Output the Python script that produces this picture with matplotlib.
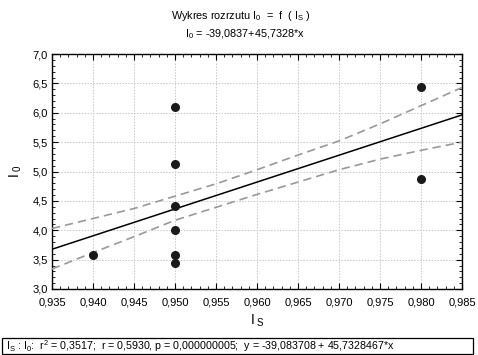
import matplotlib
matplotlib.use("Agg")
import matplotlib.pyplot as plt
from matplotlib.ticker import MultipleLocator, FuncFormatter
from matplotlib.patches import Rectangle
import numpy as np

plt.rcParams['font.family'] = ['Liberation Sans', 'DejaVu Sans']
plt.rcParams['mathtext.fontset'] = 'custom'
plt.rcParams['mathtext.rm'] = 'Liberation Sans'
plt.rcParams['mathtext.it'] = 'Liberation Sans:italic'

# data
x_pts = [0.940, 0.950, 0.950, 0.950, 0.950, 0.950, 0.950, 0.980, 0.980]
y_pts = [3.58, 6.10, 5.13, 4.42, 4.00, 3.58, 3.44, 6.44, 4.87]
intercept = -39.0837
slope = 45.7328
band_x = [0.935, 0.940, 0.945, 0.950, 0.955, 0.960, 0.965, 0.970, 0.975, 0.980, 0.985]
band_upper = [4.03, 4.20, 4.37, 4.58, 4.79, 5.03, 5.28, 5.52, 5.81, 6.12, 6.43]
band_lower = [3.34, 3.62, 3.89, 4.17, 4.39, 4.61, 4.82, 5.03, 5.21, 5.36, 5.50]
x_ticks = [0.935, 0.940, 0.945, 0.950, 0.955, 0.960, 0.965, 0.970, 0.975, 0.980, 0.985]
y_ticks = [3.0, 3.5, 4.0, 4.5, 5.0, 5.5, 6.0, 6.5, 7.0]

fig = plt.figure(figsize=(4.78, 3.55), dpi=100)
ax = fig.add_axes([52/478, 1-289/355, 410/478, 235/355])

ax.set_xlim(0.935, 0.985)
ax.set_ylim(3.0, 7.0)

xl = np.array([0.935, 0.985])
ax.plot(xl, intercept + slope*xl, color='black', lw=1.1, zorder=3)
ax.plot(band_x, band_upper, color='#999999', lw=1.2, ls=(0, (5, 3)), zorder=3)
ax.plot(band_x, band_lower, color='#999999', lw=1.2, ls=(0, (5, 3)), zorder=3)
ax.plot(x_pts, y_pts, 'o', color='#1a1a1a', ms=5.5, zorder=4)

ax.set_xticks(x_ticks)
ax.set_yticks(y_ticks)
ax.xaxis.set_minor_locator(MultipleLocator(0.001))
ax.yaxis.set_minor_locator(MultipleLocator(0.1))
ax.xaxis.set_major_formatter(FuncFormatter(lambda v, p: f"{v:.3f}".replace('.', ',')))
ax.yaxis.set_major_formatter(FuncFormatter(lambda v, p: f"{v:.1f}".replace('.', ',')))
ax.tick_params(which='both', direction='in', top=True, right=True, labelsize=8, colors='black')
ax.tick_params(which='major', length=4, width=0.8)
ax.tick_params(which='minor', length=2, width=0.6)
ax.tick_params(axis='x', which='major', pad=6)
ax.tick_params(axis='y', which='major', pad=3)
ax.grid(True, which='major', color='#c8c8c8', ls=(0, (1.5, 1.5)), lw=0.7)
for s in ax.spines.values():
    s.set_linewidth(1.0)

ax.set_xlabel(r'$\mathregular{I_{\ S}}$', fontsize=10, labelpad=4)
ax.set_ylabel(r'$\mathregular{I_{\ 0}}$', fontsize=10, labelpad=6)

fig.text(241/478, 1-16/355, r'Wykres rozrzutu $\mathregular{I_0}$  =  f  ( $\mathregular{I_S}$ )',
         ha='center', va='center', fontsize=7.8)
fig.text(245/478, 1-34/355, r'$\mathregular{I_0}$ = -39,0837+45,7328*x',
         ha='center', va='center', fontsize=7.8)

fig.patches.append(Rectangle((2/478, 1-354/355), 471/478, 16/355, transform=fig.transFigure,
                             fill=False, edgecolor='black', lw=0.9))
fig.text(6/478, 1-346/355,
         r'$\mathregular{I_S}$ : $\mathregular{I_0}$:  $\mathregular{r^2}$ = 0,3517;  r = 0,5930, p = 0,000000005;  y = -39,083708 + 45,7328467*x',
         ha='left', va='center', fontsize=7.7)

fig.savefig('out.png', dpi=100)
